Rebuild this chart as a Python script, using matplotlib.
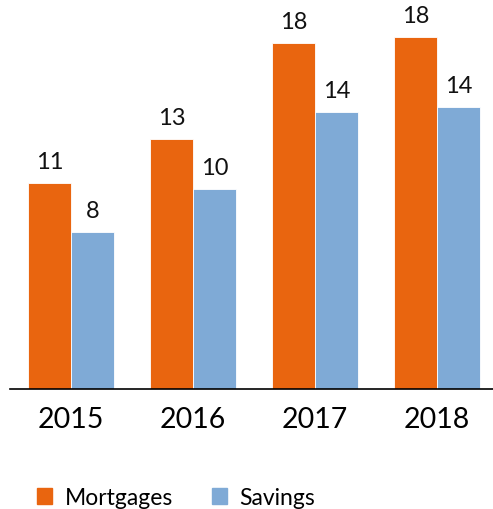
import matplotlib.pyplot as plt
from matplotlib.patches import Rectangle
import numpy as np

years = ["2015", "2016", "2017", "2018"]
mortgages = [10.55, 12.8, 17.75, 18.07]
savings = [8.05, 10.25, 14.2, 14.45]

orange = "#E9650F"
blue = "#7FAAD6"

plt.rcParams['font.family'] = ['Lato', 'DejaVu Sans']

fig = plt.figure(figsize=(4.93, 5.10), dpi=100)
ax = fig.add_axes([10 / 493, 120 / 510, 483 / 493, 390 / 510])

x = np.arange(len(years))
w = 43 / 122
b1 = ax.bar(x - w / 2, mortgages, w, color=orange, edgecolor="white", linewidth=0.6)
b2 = ax.bar(x + w / 2, savings, w, color=blue, edgecolor="white", linewidth=0.6)

for bars, vals in [(b1, mortgages), (b2, savings)]:
    for r, v in zip(bars, vals):
        ax.annotate(f"{round(v)}", (r.get_x() + r.get_width() / 2, v),
                    xytext=(0, 8), textcoords="offset points",
                    ha="center", va="bottom", fontsize=17, color="#111111")

ax.set_xlim(-0.5, 3.5 - 5 / 122)
ax.set_ylim(0, 20)
ax.set_xticks(x)
ax.set_xticklabels(years, fontsize=20.5)
ax.tick_params(axis="x", length=0, pad=12)
ax.set_yticks([])
for s in ["top", "right", "left"]:
    ax.spines[s].set_visible(False)
ax.spines["bottom"].set_linewidth(1.2)

handles = [Rectangle((0, 0), 1, 1, color=orange), Rectangle((0, 0), 1, 1, color=blue)]
fig.legend(handles, ["Mortgages", "Savings"], loc="lower left",
           bbox_to_anchor=(37 / 493, 1 / 510), ncol=2, frameon=False,
           fontsize=16.5, handlelength=0.65, handleheight=0.65,
           handletextpad=0.55, columnspacing=1.7, borderpad=0, borderaxespad=0)

fig.savefig("out.png", dpi=100)
